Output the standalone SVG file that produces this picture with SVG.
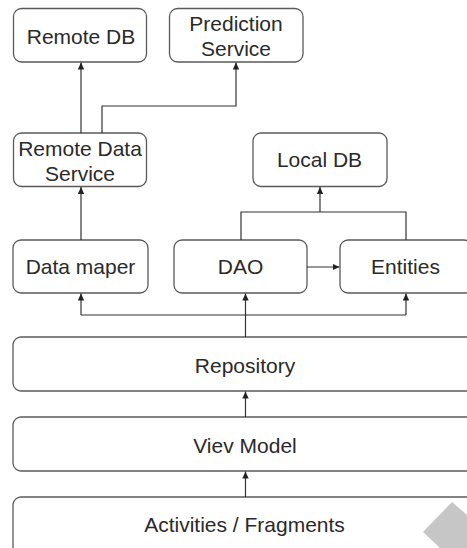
<svg xmlns="http://www.w3.org/2000/svg" width="467" height="548" viewBox="0 0 467 548">
<style>
.box{fill:#fff;stroke:#5a5a5a;stroke-width:1.3}
.lbl{font-family:"Liberation Sans",Arial,sans-serif;font-size:21px;fill:#2a2a2a;text-anchor:middle}
.edge{fill:none;stroke:#333;stroke-width:1.2}
</style>
<defs>
<marker id="ah" markerWidth="8" markerHeight="8" refX="7" refY="4" orient="auto" markerUnits="userSpaceOnUse">
<path d="M0,0.8 L7,4 L0,7.2 Z" fill="#222"/>
</marker>
</defs>
<rect width="467" height="548" fill="#fff"/>
<g id="remote-db"><rect class="box" x="13.5" y="8.5" width="133" height="53.5" rx="8"/><text class="lbl" x="81" y="44">Remote DB</text></g>
<g id="prediction-service"><rect class="box" x="169.5" y="8.5" width="133.5" height="53.5" rx="8"/><text class="lbl" x="236" y="30.7">Prediction</text><text class="lbl" x="236" y="55.7">Service</text></g>
<g id="remote-data-service"><rect class="box" x="13.5" y="133" width="133" height="53.5" rx="8"/><text class="lbl" x="80" y="155.7">Remote Data</text><text class="lbl" x="80" y="180.7">Service</text></g>
<g id="local-db"><rect class="box" x="253" y="133" width="134" height="53.5" rx="8"/><text class="lbl" x="319.5" y="167">Local DB</text></g>
<g id="data-maper"><rect class="box" x="13" y="240" width="135" height="53" rx="8"/><text class="lbl" x="80.5" y="274">Data maper</text></g>
<g id="dao"><rect class="box" x="174" y="240" width="133" height="53" rx="8"/><text class="lbl" x="240.5" y="274">DAO</text></g>
<g id="entities"><rect class="box" x="340" y="240" width="132" height="53" rx="8"/><text class="lbl" x="405.5" y="274">Entities</text></g>
<g id="repository"><rect class="box" x="13" y="337" width="464" height="54" rx="8"/><text class="lbl" x="245" y="372.7">Repository</text></g>
<g id="viev-model"><rect class="box" x="13" y="417" width="464" height="54" rx="8"/><text class="lbl" x="245" y="452.7">Viev Model</text></g>
<g id="activities-fragments"><rect class="box" x="13" y="497" width="464" height="60" rx="8"/><text class="lbl" x="244.5" y="531.7">Activities / Fragments</text></g>
<g id="connectors">
<path class="edge" d="M81,133 V62.5" marker-end="url(#ah)"/>
<path class="edge" d="M102,133 V106 H236 V62.5" marker-end="url(#ah)"/>
<path class="edge" d="M81,240 V187" marker-end="url(#ah)"/>
<path class="edge" d="M241,240 V212 H406 V240"/>
<path class="edge" d="M320,212 V187" marker-end="url(#ah)"/>
<path class="edge" d="M307,267 H339.5" marker-end="url(#ah)"/>
<path class="edge" d="M245.5,337 V293.5" marker-end="url(#ah)"/>
<path class="edge" d="M81,315 V293.5" marker-end="url(#ah)"/>
<path class="edge" d="M81,315 H406"/>
<path class="edge" d="M406,315 V293.5" marker-end="url(#ah)"/>
<path class="edge" d="M245.5,417 V391.5" marker-end="url(#ah)"/>
<path class="edge" d="M245.5,497 V471.5" marker-end="url(#ah)"/>
</g>
<polygon points="452,502 467,515 467,548 440,548 423,532" fill="#c6c6c6"/>
</svg>
